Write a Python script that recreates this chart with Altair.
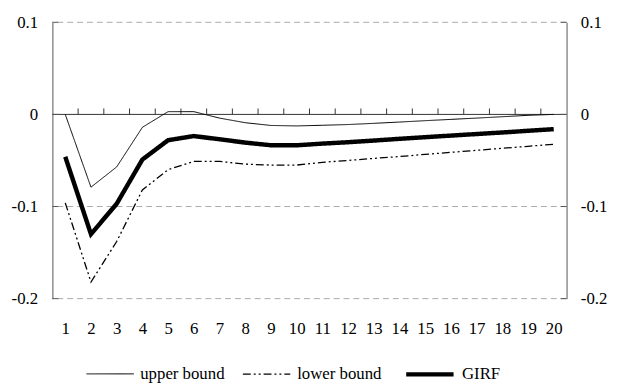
import altair as alt
import pandas as pd

periods = list(range(1, 21))
upper_bound = [0.000, -0.079, -0.057, -0.014, 0.003, 0.003, -0.004, -0.009, -0.012, -0.0125,
               -0.0118, -0.011, -0.0097, -0.0083, -0.0068, -0.0054, -0.004, -0.0025, -0.001, 0.000]
lower_bound = [-0.096, -0.182, -0.138, -0.082, -0.060, -0.051, -0.051, -0.054, -0.055, -0.055,
               -0.052, -0.050, -0.0478, -0.0457, -0.0434, -0.0412, -0.039, -0.0368, -0.0346, -0.0324]
girf = [-0.046, -0.130, -0.097, -0.049, -0.028, -0.0235, -0.027, -0.0306, -0.0335, -0.0335,
        -0.0317, -0.0302, -0.0284, -0.0265, -0.0247, -0.023, -0.0213, -0.0196, -0.0178, -0.016]
series_names = ["upper bound", "lower bound", "GIRF"]
y_ticks = [0.1, 0, -0.1, -0.2]
grid_values = [0.1, -0.1, -0.2]

W, H = 521, 280
FONT = "Liberation Serif"
FS = 17

rows = []
for name, vals in zip(series_names, [upper_bound, lower_bound, girf]):
    for p, v in zip(periods, vals):
        rows.append({"period": p, "value": v, "series": name})
df = pd.DataFrame(rows)

boundaries = pd.DataFrame({"period": [p + 0.5 for p in periods[:-1]]})
grid_df = pd.DataFrame({"value": grid_values})
zero_df = pd.DataFrame({"value": [0]})
tick_df = pd.DataFrame({"value": y_ticks})

x_scale = alt.Scale(domain=[0.5, 20.5], nice=False, zero=False)
y_scale = alt.Scale(domain=[-0.2, 0.1], nice=False, zero=False)

x_axis = alt.Axis(values=periods, format="d", domain=False, ticks=False, grid=False,
                  labelPadding=22, labelFont=FONT, labelFontSize=FS,
                  labelColor="black", title=None)

left_axis = alt.Axis(values=y_ticks, labelExpr="toString(datum.value)", grid=False,
                     domain=True, domainColor="#555", ticks=False, labelPadding=15,
                     labelFont=FONT, labelFontSize=FS, labelColor="black", title=None,
                     orient="left")
right_axis = alt.Axis(values=y_ticks, labelExpr="toString(datum.value)", grid=False,
                      domain=True, domainColor="#555", ticks=False, labelPadding=14,
                      labelFont=FONT, labelFontSize=FS, labelColor="black", title=None,
                      orient="right")

X = lambda: alt.X("period:Q", scale=x_scale, axis=x_axis)
Y = lambda: alt.Y("value:Q", scale=y_scale, axis=left_axis)

grid = alt.Chart(grid_df).mark_rule(color="#aaa", strokeDash=[6, 4], strokeWidth=1).encode(
    y=Y()
)

zero = alt.Chart(zero_df).mark_rule(color="#333", strokeWidth=1).encode(
    y=Y()
)

xticks = alt.Chart(boundaries).mark_rule(color="#333", strokeWidth=1).encode(
    x=X(),
    y=alt.value(H * (0.1 / 0.3)),
    y2=alt.value(H * (0.1 / 0.3) - 6),
)

ltick = alt.Chart(tick_df).mark_rule(color="#555").encode(
    y=Y(), x=alt.value(0), x2=alt.value(6)
)
rtick = alt.Chart(tick_df).mark_rule(color="#555").encode(
    y=Y(), x=alt.value(W - 6), x2=alt.value(W)
)

lines = alt.Chart(df).mark_line(color="black", strokeCap="butt", strokeJoin="miter").encode(
    x=X(),
    y=Y(),
    detail="series:N",
    strokeDash=alt.StrokeDash("series:N",
                              scale=alt.Scale(domain=series_names,
                                              range=[[1, 0], [8, 3, 2, 3, 2, 3], [1, 0]]),
                              legend=alt.Legend(title=None)),
    strokeWidth=alt.StrokeWidth("series:N",
                                scale=alt.Scale(type="ordinal", domain=series_names,
                                                range=[1, 1.3, 4.5]),
                                legend=alt.Legend(title=None)),
)

right = alt.Chart(zero_df).mark_rule(opacity=0).encode(
    y=alt.Y("value:Q", scale=y_scale, axis=right_axis)
)

left_layer = alt.layer(grid, zero, xticks, ltick, rtick, lines)
chart = alt.layer(left_layer, right).resolve_scale(y="independent").properties(
    width=W, height=H,
    autosize=alt.AutoSizeParams(type="none"),
    padding={"left": 45, "top": 12, "right": 43, "bottom": 83},
).configure(font=FONT).configure_view(stroke=None).configure_axis(
    labelFont=FONT
).configure_legend(
    orient="none", legendX=34, legendY=330, direction="horizontal",
    symbolType="stroke", symbolSize=2304, symbolStrokeColor="black",
    labelFont=FONT, labelFontSize=FS, labelColor="black", labelOffset=6,
    columnPadding=15, padding=0, labelLimit=300,
)

chart.save("out.html", embed_options={"renderer": "svg", "actions": False})
